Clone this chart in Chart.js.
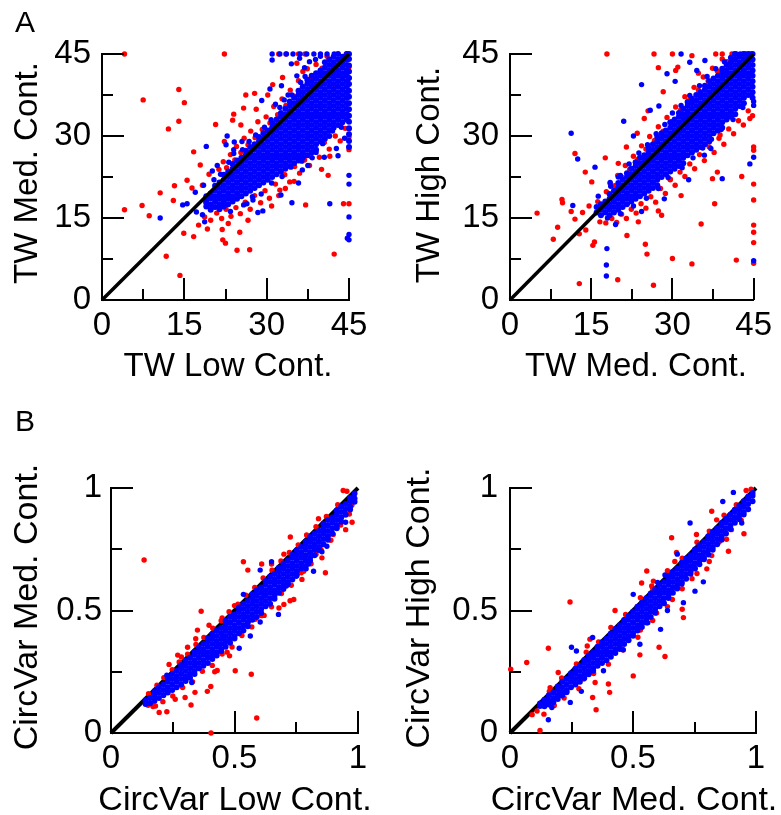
<!DOCTYPE html>
<html>
<head>
<meta charset="utf-8">
<script src="https://cdn.jsdelivr.net/npm/chart.js@4.4.1/dist/chart.umd.min.js"></script>
<style>
html, body { margin: 0; padding: 0; background: #fff; }
#wrap { position: relative; width: 781px; height: 815px; overflow: hidden; }
canvas { position: absolute; }
</style>
</head>
<body>
<div id="wrap">
  <canvas id="a1" width="390" height="400" style="left:0;top:0"></canvas>
  <canvas id="a2" width="391" height="400" style="left:390px;top:0"></canvas>
  <canvas id="b1" width="390" height="415" style="left:0;top:400px"></canvas>
  <canvas id="b2" width="391" height="415" style="left:390px;top:400px"></canvas>
</div>
<script>
// tick positions and labels
const twTicks = [0, 7.5, 15, 22.5, 30, 37.5, 45];
const twLabels = ['0', '', '15', '', '30', '', '45'];
const cvTicks = [0, 0.25, 0.5, 0.75, 1];
const cvLabels = ['0', '', '0.5', '', '1'];

const twDiag = [0, 0, 45, 45];
const cvDiag = [0, 0, 1, 1];

// dense cores, read column by column: [x, y, y, ...]
const a1BlueCore = [
  [19.0, 17.1, 18.0, 19.0],
  [19.8, 16.5, 17.5, 18.6, 19.5],
  [20.6, 17.0, 18.0, 19.0, 20.0, 20.9],
  [21.4, 16.6, 17.5, 18.5, 19.5, 20.5, 21.5],
  [22.2, 17.1, 18.0, 19.0, 20.0, 21.0, 22.0, 22.9],
  [23.0, 17.5, 18.5, 19.5, 20.5, 21.5, 22.5, 23.5],
  [23.8, 18.0, 19.0, 20.0, 21.0, 22.0, 23.0, 24.0, 24.9],
  [24.6, 18.5, 19.5, 20.5, 21.5, 22.5, 23.5, 24.5, 25.5],
  [25.4, 19.0, 20.0, 21.0, 22.0, 23.0, 24.0, 25.0, 26.0],
  [26.2, 19.5, 20.5, 21.5, 22.5, 23.5, 24.5, 25.5, 26.5, 27.3],
  [27.0, 20.0, 21.0, 22.0, 23.0, 24.0, 25.0, 26.0, 27.0, 28.0],
  [27.8, 20.5, 21.5, 22.5, 23.5, 24.5, 25.5, 26.5, 27.5, 28.5],
  [28.6, 21.0, 22.0, 23.0, 24.0, 25.0, 26.0, 27.0, 28.0, 29.0, 29.8],
  [29.4, 21.5, 22.5, 23.5, 24.5, 25.5, 26.5, 27.5, 28.5, 29.5, 30.5],
  [30.2, 22.0, 23.0, 24.0, 25.0, 26.0, 27.0, 28.0, 29.0, 30.0, 31.0],
  [31.0, 22.5, 23.5, 24.5, 25.5, 26.5, 27.5, 28.5, 29.5, 30.5, 31.5, 32.4],
  [31.8, 23.0, 24.0, 25.0, 26.0, 27.0, 28.0, 29.0, 30.0, 31.0, 32.0, 33.0],
  [32.6, 23.5, 24.5, 25.5, 26.5, 27.5, 28.5, 29.5, 30.5, 31.5, 32.5, 33.5, 34.2],
  [33.4, 24.0, 25.0, 26.0, 27.0, 28.0, 29.0, 30.0, 31.0, 32.0, 33.0, 34.0, 35.0],
  [34.2, 24.5, 25.5, 26.5, 27.5, 28.5, 29.5, 30.5, 31.5, 32.5, 33.5, 34.5, 35.5, 36.3],
  [35.0, 25.0, 26.0, 27.0, 28.0, 29.0, 30.0, 31.0, 32.0, 33.0, 34.0, 35.0, 36.0, 37.0],
  [35.8, 25.5, 26.5, 27.5, 28.5, 29.5, 30.5, 31.5, 32.5, 33.5, 34.5, 35.5, 36.5, 37.5, 38.3],
  [36.6, 26.0, 27.0, 28.0, 29.0, 30.0, 31.0, 32.0, 33.0, 34.0, 35.0, 36.0, 37.0, 38.0, 39.0],
  [37.4, 26.5, 27.5, 28.5, 29.5, 30.5, 31.5, 32.5, 33.5, 34.5, 35.5, 36.5, 37.5, 38.5, 39.5, 40.3],
  [38.2, 27.0, 28.0, 29.0, 30.0, 31.0, 32.0, 33.0, 34.0, 35.0, 36.0, 37.0, 38.0, 39.0, 40.0, 41.0],
  [39.0, 27.5, 28.5, 29.5, 30.5, 31.5, 32.5, 33.5, 34.5, 35.5, 36.5, 37.5, 38.5, 39.5, 40.5, 41.5],
  [39.8, 29.0, 30.0, 31.0, 32.0, 33.0, 34.0, 35.0, 36.0, 37.0, 38.0, 39.0, 40.0, 41.0, 42.0],
  [40.6, 29.5, 30.5, 31.5, 32.5, 33.5, 34.5, 35.5, 36.5, 37.5, 38.5, 39.5, 40.5, 41.5, 42.5, 43.5],
  [41.4, 30.0, 31.0, 32.0, 33.0, 34.0, 35.0, 36.0, 37.0, 38.0, 39.0, 40.0, 41.0, 42.0, 43.0, 44.0],
  [42.2, 31.5, 32.5, 33.5, 34.5, 35.5, 36.5, 37.5, 38.5, 39.5, 40.5, 41.5, 42.5, 43.5, 44.5],
  [43.0, 32.0, 33.0, 34.0, 35.0, 36.0, 37.0, 38.0, 39.0, 40.0, 41.0, 42.0, 43.0, 44.0, 45.0],
  [43.8, 32.5, 33.5, 34.5, 35.5, 36.5, 37.5, 38.5, 39.5, 40.5, 41.5, 42.5, 43.5, 44.5],
  [44.6, 33.0, 34.0, 35.0, 36.0, 37.0, 38.0, 39.0, 40.0, 41.0, 42.0, 43.0, 44.0, 45.0],
  [45.0, 28.0, 29.1, 30.3, 31.4, 32.6, 33.7, 34.9, 36.0, 37.2, 38.3, 39.5, 40.6, 41.8, 42.9, 44.1, 45.0]
];
// scattered points: x, y, x, y, ...
const a1BlueOut = [
  31.0, 45, 32.4, 45, 33.6, 45, 34.8, 45, 36.1, 45, 37.3, 45, 38.6, 45, 39.8, 45, 41.0, 45, 42.3, 45,
  31.0, 43.9, 29.1, 36.5, 30.6, 38.6, 32.7, 39.2, 31.6, 35.8, 22.8, 30.0, 22.6, 28.4, 24.1, 28.9,
  19.0, 28.1, 14.7, 17.4, 15.5, 17.6, 10.6, 15.0, 18.7, 14.3, 17.2, 16.1, 18.3, 15.6, 34.6, 17.8,
  41.5, 17.6, 45, 22.8, 45, 21.2, 45, 15.2, 45, 12.0, 44.7, 11.3, 45, 11.0, 42.7, 27.7, 43.0, 26.4,
  29.3, 16.3, 28.4, 16.0, 32.6, 19.2, 35.8, 21.4, 26.4, 17.6, 27.5, 18.3, 33.9, 37.5, 35.5, 41.0,
  36.9, 42.5, 37.8, 43.6, 38.9, 44.0, 39.8, 44.6, 34.5, 43.2, 36.0, 44.2, 40.5, 26.1, 39.0, 27.0,
  37.5, 24.6, 36.5, 23.8, 24.0, 27.5, 25.5, 29.0, 21.0, 24.6, 20.1, 23.6, 18.5, 21.0, 17.0, 19.7,
  20.4, 22.0, 21.6, 23.0, 23.1, 25.2, 24.0, 26.8, 25.6, 27.5, 26.8, 29.0, 28.0, 30.2, 29.6, 31.6,
  30.8, 33.0, 32.4, 35.2, 33.2, 36.6, 34.6, 37.5, 36.2, 39.8, 37.0, 40.9, 23.4, 16.2, 25.8, 17.4,
  27.4, 18.9, 29.0, 19.4, 30.9, 21.4, 32.8, 22.6, 34.4, 24.3, 36.4, 25.4, 38.3, 26.0, 40.2, 28.6,
  42.0, 30.9, 43.6, 31.6, 44.2, 29.6
];
const a1RedOut = [
  21.3, 23.9, 22.1, 25.3, 22.7, 24.2, 23.4, 26.6, 24.2, 25.6, 24.5, 28.1, 25.3, 27.0, 25.9, 29.6,
  26.6, 28.4, 27.1, 30.9, 27.9, 29.7, 28.4, 32.6, 29.2, 31.2, 29.9, 33.5, 30.6, 32.4, 31.3, 35.4,
  32.0, 33.9, 32.8, 36.8, 33.5, 35.6, 34.3, 38.4, 35.0, 37.3, 35.8, 40.1, 36.5, 38.9, 37.4, 42.3,
  38.1, 40.6, 39.0, 43.1, 40.1, 42.4, 41.0, 44.6,
  18.7, 15.2, 19.8, 14.6, 20.9, 15.9, 21.8, 14.9, 22.6, 16.6, 23.5, 15.3, 24.4, 16.9, 25.2, 15.8,
  26.1, 17.9, 27.0, 16.6, 27.8, 19.1, 28.9, 17.8, 29.7, 20.0, 30.5, 18.6, 31.6, 21.2, 32.4, 20.1,
  33.3, 22.9, 34.2, 21.6, 35.1, 24.4, 36.0, 23.2, 36.9, 25.6, 37.8, 24.6, 38.7, 27.2, 39.6, 26.1,
  40.5, 28.8, 41.4, 27.6, 42.5, 30.0, 43.4, 29.1, 44.3, 31.4,
  4.1, 45, 22.3, 45, 32.2, 45, 33.5, 45, 35.8, 45, 37.0, 45, 44.5, 45,
  14.0, 38.5, 7.5, 36.6, 15.0, 36.1, 14.0, 32.7, 12.1, 31.3, 20.7, 32.1,
  4.1, 16.5, 7.3, 17.3, 8.6, 15.4, 10.6, 19.6, 13.0, 18.2, 13.2, 20.9, 15.5, 21.9, 16.7, 27.1, 17.9, 24.7,
  11.7, 8.0, 14.2, 4.5, 14.9, 12.2, 16.7, 11.6, 17.6, 13.7, 19.2, 13.0, 21.9, 12.9, 22.0, 11.0,
  22.5, 10.4, 25.1, 12.4, 24.6, 9.1, 26.9, 9.2, 42.3, 8.4, 37.1, 17.4, 40.0, 23.9, 41.5, 26.3,
  44.0, 17.6, 45, 17.6, 45, 29.8, 45, 31.3, 45, 27.5, 38.0, 26.3, 36.0, 26.1, 32.2, 19.1, 30.9, 17.2,
  27.8, 37.8, 26.2, 37.5, 30.2, 37.5, 28.1, 34.9, 31.1, 39.4, 25.8, 35.1, 23.8, 32.9, 25.3, 32.0,
  22.3, 29.0, 32.9, 40.7, 35.5, 43.3, 36.6, 41.8, 24.0, 34.0, 19.5, 23.0, 18.3, 21.0, 16.4, 20.5,
  18.9, 17.8, 20.4, 17.0, 23.0, 14.0, 26.6, 14.6, 33.4, 20.4, 35.0, 21.7, 41.2, 22.8, 45, 40.6,
  45, 42.6, 44.0, 44.0, 42.5, 39.1
];

const a2BlueCore = [
  [16.0, 16.0, 17.0],
  [16.8, 15.5, 16.5, 17.5],
  [17.6, 16.0, 17.0, 18.0],
  [18.4, 15.5, 16.5, 17.5, 18.5, 19.4],
  [19.2, 16.0, 17.0, 18.0, 19.0, 20.0],
  [20.0, 16.5, 17.5, 18.5, 19.5, 20.5, 21.4],
  [20.8, 17.0, 18.0, 19.0, 20.0, 21.0, 22.0],
  [21.6, 17.5, 18.5, 19.5, 20.5, 21.5, 22.5, 23.2],
  [22.4, 18.0, 19.0, 20.0, 21.0, 22.0, 23.0, 24.0],
  [23.2, 18.5, 19.5, 20.5, 21.5, 22.5, 23.5, 24.5, 25.2],
  [24.0, 19.0, 20.0, 21.0, 22.0, 23.0, 24.0, 25.0, 26.0],
  [24.8, 19.5, 20.5, 21.5, 22.5, 23.5, 24.5, 25.5, 26.5],
  [25.6, 20.0, 21.0, 22.0, 23.0, 24.0, 25.0, 26.0, 27.0, 27.8],
  [26.4, 20.5, 21.5, 22.5, 23.5, 24.5, 25.5, 26.5, 27.5, 28.5],
  [27.2, 21.0, 22.0, 23.0, 24.0, 25.0, 26.0, 27.0, 28.0, 29.0, 29.8],
  [28.0, 22.5, 23.5, 24.5, 25.5, 26.5, 27.5, 28.5, 29.5, 30.5],
  [28.8, 23.0, 24.0, 25.0, 26.0, 27.0, 28.0, 29.0, 30.0, 31.0],
  [29.6, 23.5, 24.5, 25.5, 26.5, 27.5, 28.5, 29.5, 30.5, 31.5, 32.5],
  [30.4, 24.0, 25.0, 26.0, 27.0, 28.0, 29.0, 30.0, 31.0, 32.0, 33.0],
  [31.2, 24.5, 25.5, 26.5, 27.5, 28.5, 29.5, 30.5, 31.5, 32.5, 33.5, 34.2],
  [32.0, 25.0, 26.0, 27.0, 28.0, 29.0, 30.0, 31.0, 32.0, 33.0, 34.0, 35.0],
  [32.8, 26.5, 27.5, 28.5, 29.5, 30.5, 31.5, 32.5, 33.5, 34.5, 35.5, 36.2],
  [33.6, 27.0, 28.0, 29.0, 30.0, 31.0, 32.0, 33.0, 34.0, 35.0, 36.0, 36.8],
  [34.4, 27.5, 28.5, 29.5, 30.5, 31.5, 32.5, 33.5, 34.5, 35.5, 36.5, 37.5],
  [35.2, 28.0, 29.0, 30.0, 31.0, 32.0, 33.0, 34.0, 35.0, 36.0, 37.0, 38.0],
  [36.0, 28.5, 29.5, 30.5, 31.5, 32.5, 33.5, 34.5, 35.5, 36.5, 37.5, 38.5, 39.2],
  [36.8, 29.0, 30.0, 31.0, 32.0, 33.0, 34.0, 35.0, 36.0, 37.0, 38.0, 39.0, 40.0],
  [37.6, 30.5, 31.5, 32.5, 33.5, 34.5, 35.5, 36.5, 37.5, 38.5, 39.5, 40.5],
  [38.4, 31.0, 32.0, 33.0, 34.0, 35.0, 36.0, 37.0, 38.0, 39.0, 40.0, 41.0],
  [39.2, 31.5, 32.5, 33.5, 34.5, 35.5, 36.5, 37.5, 38.5, 39.5, 40.5, 41.5, 42.3],
  [40.0, 33.0, 34.0, 35.0, 36.0, 37.0, 38.0, 39.0, 40.0, 41.0, 42.0, 43.0],
  [40.8, 33.5, 34.5, 35.5, 36.5, 37.5, 38.5, 39.5, 40.5, 41.5, 42.5, 43.5, 44.3],
  [41.6, 34.0, 35.0, 36.0, 37.0, 38.0, 39.0, 40.0, 41.0, 42.0, 43.0, 44.0, 45.0],
  [42.4, 35.5, 36.5, 37.5, 38.5, 39.5, 40.5, 41.5, 42.5, 43.5, 44.5],
  [43.2, 36.0, 37.0, 38.0, 39.0, 40.0, 41.0, 42.0, 43.0, 44.0, 45.0],
  [44.0, 37.5, 38.5, 39.5, 40.5, 41.5, 42.5, 43.5, 44.5, 45.0],
  [44.8, 37.0, 38.0, 39.0, 40.0, 41.0, 42.0, 43.0, 44.0, 45.0]
];
const a2BlueOut = [
  41.5, 45, 42.5, 45, 43.5, 45, 44.5, 44.3, 44.6, 45,
  11.3, 30.5, 12.5, 25.8, 15.7, 24.3, 11.6, 17.3, 17.9, 9.4, 17.8, 6.4, 17.8, 4.4, 24.3, 16.2,
  31.6, 45, 29.0, 41.4, 24.3, 39.4, 25.9, 34.7, 21.0, 32.7, 22.8, 30.0, 39.2, 22.2, 45, 26.1,
  44.3, 24.9, 45, 7.2, 45, 35.6, 45, 36.3, 37.1, 27.7, 35.9, 26.5, 33.2, 43.5, 34.5, 42.0,
  36.0, 43.8, 30.5, 40.0, 27.5, 35.5, 20.0, 22.5, 18.5, 21.5, 16.3, 19.0, 19.5, 13.8, 28.5, 18.5,
  33.0, 22.0,
  18.6, 20.8, 20.4, 22.8, 22.0, 24.9, 23.8, 26.9, 25.4, 28.4, 27.0, 30.4, 28.6, 32.1, 30.0, 34.2,
  31.6, 35.6, 33.2, 37.4, 35.0, 39.2, 36.4, 40.9, 38.0, 42.3, 39.6, 43.6, 18.0, 15.0, 20.4, 15.8,
  22.8, 17.2, 25.2, 18.6, 27.4, 20.4, 29.2, 22.4, 31.8, 24.2, 33.8, 26.0, 35.6, 27.8, 37.2, 29.4,
  39.0, 31.2, 41.2, 33.0, 43.0, 35.2
];
const a2RedOut = [
  17.8, 19.8, 18.5, 21.3, 19.3, 20.9, 19.9, 22.8, 20.7, 22.4, 21.3, 24.6, 22.1, 23.9, 22.8, 26.3,
  23.6, 25.7, 24.3, 28.2, 25.1, 27.6, 25.8, 29.9, 26.7, 29.2, 27.4, 31.7, 28.3, 30.9, 29.0, 33.4,
  29.9, 32.6, 30.6, 35.3, 31.5, 34.7, 32.3, 37.2, 33.1, 36.5, 34.0, 38.9, 34.8, 38.4, 35.7, 40.8,
  36.6, 40.1, 37.4, 42.4, 38.3, 41.9, 39.2, 44.1, 40.1, 43.6, 41.0, 45,
  16.6, 14.3, 17.7, 14.1, 18.8, 14.9, 19.7, 14.2, 20.6, 15.7, 21.5, 14.9, 22.4, 16.6, 23.3, 15.9,
  24.2, 17.6, 25.1, 16.8, 26.0, 18.9, 26.9, 17.9, 27.8, 20.4, 28.7, 19.5, 29.6, 22.1, 30.5, 21.0,
  31.4, 23.4, 32.3, 22.6, 33.2, 24.9, 34.1, 24.0, 35.0, 26.6, 35.9, 25.5, 36.8, 28.0, 37.7, 27.0,
  38.6, 29.6, 39.5, 28.5, 40.4, 31.3, 41.3, 30.4, 42.2, 32.8, 43.1, 32.0, 44.0, 34.6, 44.8, 33.7,
  17.9, 45, 26.6, 45, 30.0, 45, 33.6, 44.7, 38.0, 45, 39.2, 45, 27.4, 42.5, 31.0, 42.6, 30.6, 42.0,
  28.3, 38.1, 24.8, 33.2, 25.5, 34.6, 17.6, 26.0, 12.0, 26.8, 13.9, 23.4, 15.1, 21.6, 9.6, 18.4,
  9.7, 17.8, 5.0, 15.9, 8.8, 13.3, 8.0, 11.1, 11.3, 16.2, 12.0, 14.8, 12.8, 12.1, 14.0, 12.8,
  15.3, 10.0, 15.6, 10.6, 12.8, 3.0, 19.9, 3.7, 26.5, 2.7, 25.0, 10.2, 25.3, 8.4, 21.6, 11.8,
  23.7, 14.3, 27.4, 16.3, 28.0, 15.5, 35.3, 13.9, 37.8, 17.6, 33.6, 6.6, 30.0, 7.6, 41.8, 7.3,
  45, 6.7, 45, 10.5, 45, 12.4, 45, 13.7, 45, 18.3, 45, 21.2, 45, 27.4, 45, 28.0, 42.8, 22.6,
  38.3, 23.4, 37.4, 22.2, 31.6, 19.1, 29.6, 22.0, 44.3, 33.2, 38.8, 30.2, 16.2, 18.0, 14.6, 17.2,
  13.4, 16.0, 20.0, 25.0, 21.5, 28.0, 23.5, 30.5, 34.8, 41.5, 40.3, 43.0, 41.8, 45, 43.0, 45, 44.2, 45
];

const b1BlueCore = [
  [0.140, 0.118, 0.134],
  [0.158, 0.121, 0.143],
  [0.176, 0.132, 0.154, 0.170],
  [0.194, 0.143, 0.165, 0.187],
  [0.212, 0.154, 0.176, 0.198],
  [0.230, 0.165, 0.187, 0.209, 0.224],
  [0.248, 0.176, 0.198, 0.220, 0.242],
  [0.266, 0.187, 0.209, 0.231, 0.253],
  [0.284, 0.198, 0.220, 0.242, 0.264, 0.278],
  [0.302, 0.212, 0.231, 0.253, 0.275, 0.295],
  [0.320, 0.226, 0.242, 0.264, 0.286, 0.308],
  [0.338, 0.241, 0.253, 0.275, 0.297, 0.319, 0.331],
  [0.356, 0.264, 0.286, 0.308, 0.330, 0.350],
  [0.374, 0.275, 0.297, 0.319, 0.341, 0.363],
  [0.392, 0.286, 0.308, 0.330, 0.352, 0.374, 0.387],
  [0.410, 0.302, 0.319, 0.341, 0.363, 0.385, 0.404],
  [0.428, 0.316, 0.330, 0.352, 0.374, 0.396, 0.418],
  [0.446, 0.334, 0.341, 0.363, 0.385, 0.407, 0.429],
  [0.464, 0.352, 0.374, 0.396, 0.418, 0.440, 0.458],
  [0.482, 0.368, 0.385, 0.407, 0.429, 0.451, 0.473],
  [0.500, 0.386, 0.396, 0.418, 0.440, 0.462, 0.484],
  [0.518, 0.407, 0.429, 0.451, 0.473, 0.495, 0.512],
  [0.536, 0.418, 0.440, 0.462, 0.484, 0.506, 0.528],
  [0.554, 0.436, 0.451, 0.473, 0.495, 0.517, 0.539],
  [0.572, 0.462, 0.484, 0.506, 0.528, 0.550, 0.566],
  [0.590, 0.473, 0.495, 0.517, 0.539, 0.561, 0.583],
  [0.608, 0.490, 0.506, 0.528, 0.550, 0.572, 0.594],
  [0.626, 0.517, 0.539, 0.561, 0.583, 0.605, 0.620],
  [0.644, 0.528, 0.550, 0.572, 0.594, 0.616, 0.638],
  [0.662, 0.548, 0.561, 0.583, 0.605, 0.627, 0.649],
  [0.680, 0.572, 0.594, 0.616, 0.638, 0.660, 0.674],
  [0.698, 0.588, 0.605, 0.627, 0.649, 0.671, 0.692],
  [0.716, 0.607, 0.616, 0.638, 0.660, 0.682, 0.704],
  [0.734, 0.627, 0.649, 0.671, 0.693, 0.715, 0.728],
  [0.752, 0.644, 0.660, 0.682, 0.704, 0.726, 0.746],
  [0.770, 0.671, 0.693, 0.715, 0.737, 0.759],
  [0.788, 0.682, 0.704, 0.726, 0.748, 0.770, 0.782],
  [0.806, 0.703, 0.715, 0.737, 0.759, 0.781, 0.800],
  [0.824, 0.726, 0.748, 0.770, 0.792, 0.814],
  [0.842, 0.747, 0.759, 0.781, 0.803, 0.825],
  [0.860, 0.770, 0.792, 0.814, 0.836, 0.854],
  [0.878, 0.789, 0.803, 0.825, 0.847, 0.869],
  [0.896, 0.814, 0.836, 0.858, 0.880],
  [0.914, 0.836, 0.847, 0.869, 0.891, 0.908],
  [0.932, 0.862, 0.880, 0.902, 0.924],
  [0.950, 0.891, 0.913, 0.935],
  [0.968, 0.912, 0.924, 0.946, 0.960],
  [0.986, 0.944, 0.957, 0.978]
];
const b1BlueOut = [
  0.65, 0.699, 0.604, 0.665, 0.536, 0.566, 0.678, 0.484, 0.604, 0.453, 0.564, 0.396, 0.519, 0.346,
  0.82, 0.66, 0.874, 0.762, 0.854, 0.74, 0.95, 0.86, 0.80, 0.69, 0.79, 0.67, 0.327, 0.206,
  0.226, 0.236, 0.62, 0.56, 0.58, 0.54, 0.46, 0.395, 0.44, 0.36, 0.71, 0.60, 0.75, 0.64
];
const b1RedOut = [
  0.152, 0.16, 0.186, 0.195, 0.214, 0.226, 0.248, 0.258, 0.276, 0.29, 0.31, 0.322, 0.344, 0.361,
  0.376, 0.39, 0.412, 0.428, 0.446, 0.458, 0.478, 0.495, 0.514, 0.526, 0.546, 0.562, 0.582, 0.594,
  0.616, 0.633, 0.652, 0.664, 0.688, 0.702, 0.722, 0.737, 0.758, 0.768, 0.792, 0.808, 0.83, 0.842,
  0.872, 0.884, 0.918, 0.932,
  0.17, 0.108, 0.21, 0.128, 0.25, 0.151, 0.29, 0.186, 0.33, 0.209, 0.37, 0.252, 0.41, 0.276,
  0.45, 0.322, 0.49, 0.351, 0.53, 0.398, 0.57, 0.433, 0.61, 0.479, 0.65, 0.515, 0.69, 0.569,
  0.73, 0.603, 0.77, 0.654, 0.81, 0.691, 0.85, 0.749, 0.89, 0.787, 0.93, 0.849, 0.965, 0.894,
  0.134, 0.706, 0.726, 0.80, 0.868, 0.654, 0.95, 0.83, 0.976, 0.86, 0.94, 0.99, 0.955, 0.987,
  0.975, 0.93, 0.536, 0.699, 0.554, 0.665, 0.61, 0.69, 0.65, 0.69, 0.365, 0.497, 0.397, 0.44,
  0.35, 0.42, 0.343, 0.385, 0.31, 0.35, 0.27, 0.318, 0.285, 0.31, 0.235, 0.28, 0.503, 0.254,
  0.568, 0.24, 0.42, 0.25, 0.404, 0.19, 0.39, 0.17, 0.34, 0.166, 0.324, 0.114, 0.26, 0.138,
  0.30, 0.145, 0.226, 0.087, 0.195, 0.084, 0.59, 0.061, 0.405, 0.0, 0.74, 0.545, 0.725, 0.54,
  0.68, 0.51, 0.70, 0.525, 0.773, 0.627, 0.584, 0.464, 0.62, 0.48, 0.47, 0.33, 0.48, 0.315,
  0.43, 0.255, 0.165, 0.12, 0.15, 0.113, 0.18, 0.11, 0.854, 0.715, 0.91, 0.87, 0.84, 0.875,
  0.70, 0.73, 0.50, 0.52, 0.45, 0.47, 0.56, 0.46, 0.66, 0.58, 0.78, 0.66, 0.83, 0.73, 0.90, 0.81
];

const b2BlueCore = [
  [0.122, 0.110, 0.120],
  [0.140, 0.109, 0.121, 0.136],
  [0.158, 0.116, 0.132, 0.154],
  [0.176, 0.126, 0.143, 0.165],
  [0.194, 0.139, 0.154, 0.176, 0.190],
  [0.212, 0.153, 0.165, 0.187, 0.209],
  [0.230, 0.166, 0.176, 0.198, 0.220],
  [0.248, 0.187, 0.209, 0.231, 0.244],
  [0.266, 0.198, 0.220, 0.242, 0.262],
  [0.284, 0.209, 0.231, 0.253, 0.275],
  [0.302, 0.224, 0.242, 0.264, 0.286, 0.298],
  [0.320, 0.240, 0.253, 0.275, 0.297, 0.316],
  [0.338, 0.254, 0.264, 0.286, 0.308, 0.330],
  [0.356, 0.275, 0.297, 0.319, 0.341, 0.352],
  [0.374, 0.286, 0.308, 0.330, 0.352, 0.370],
  [0.392, 0.297, 0.319, 0.341, 0.363, 0.385],
  [0.410, 0.311, 0.330, 0.352, 0.374, 0.396, 0.406],
  [0.428, 0.327, 0.341, 0.363, 0.385, 0.407, 0.424],
  [0.446, 0.343, 0.352, 0.374, 0.396, 0.418, 0.440],
  [0.464, 0.363, 0.385, 0.407, 0.429, 0.451, 0.461],
  [0.482, 0.379, 0.396, 0.418, 0.440, 0.462, 0.478],
  [0.500, 0.397, 0.407, 0.429, 0.451, 0.473, 0.495],
  [0.518, 0.418, 0.440, 0.462, 0.484, 0.506, 0.515],
  [0.536, 0.433, 0.451, 0.473, 0.495, 0.517, 0.532],
  [0.554, 0.451, 0.462, 0.484, 0.506, 0.528, 0.550],
  [0.572, 0.473, 0.495, 0.517, 0.539, 0.561, 0.569],
  [0.590, 0.491, 0.506, 0.528, 0.550, 0.572, 0.587],
  [0.608, 0.517, 0.539, 0.561, 0.583, 0.604],
  [0.626, 0.530, 0.550, 0.572, 0.594, 0.616],
  [0.644, 0.551, 0.561, 0.583, 0.605, 0.627, 0.641],
  [0.662, 0.572, 0.594, 0.616, 0.638, 0.658],
  [0.680, 0.590, 0.605, 0.627, 0.649, 0.671],
  [0.698, 0.609, 0.616, 0.638, 0.660, 0.682, 0.695],
  [0.716, 0.630, 0.649, 0.671, 0.693, 0.712],
  [0.734, 0.650, 0.660, 0.682, 0.704, 0.726],
  [0.752, 0.671, 0.693, 0.715, 0.737, 0.749],
  [0.770, 0.689, 0.704, 0.726, 0.748, 0.766],
  [0.788, 0.709, 0.715, 0.737, 0.759, 0.781],
  [0.806, 0.729, 0.748, 0.770, 0.792, 0.803],
  [0.824, 0.748, 0.759, 0.781, 0.803, 0.820],
  [0.842, 0.770, 0.792, 0.814, 0.836],
  [0.860, 0.789, 0.803, 0.825, 0.847, 0.857],
  [0.878, 0.814, 0.836, 0.858, 0.874],
  [0.896, 0.833, 0.847, 0.869, 0.891],
  [0.914, 0.858, 0.880, 0.902, 0.911],
  [0.932, 0.872, 0.891, 0.913, 0.928],
  [0.950, 0.892, 0.902, 0.924, 0.946],
  [0.968, 0.913, 0.935, 0.957, 0.964],
  [0.986, 0.946, 0.968, 0.980]
];
const b2BlueOut = [
  0.732, 0.857, 0.908, 0.982, 0.942, 0.857, 0.786, 0.617, 0.752, 0.579, 0.705, 0.532, 0.612, 0.423,
  0.528, 0.362, 0.501, 0.566, 0.25, 0.35, 0.27, 0.335, 0.336, 0.39, 0.38, 0.254, 0.156, 0.054,
  0.17, 0.104, 0.245, 0.125, 0.29, 0.17, 0.865, 0.945, 0.64, 0.50, 0.56, 0.45, 0.46, 0.34,
  0.60, 0.615, 0.63, 0.645, 0.68, 0.73
];
const b2RedOut = [
  0.16, 0.17, 0.21, 0.225, 0.27, 0.282, 0.31, 0.33, 0.36, 0.372, 0.41, 0.431, 0.47, 0.484, 0.53, 0.552,
  0.58, 0.591, 0.64, 0.662, 0.70, 0.713, 0.76, 0.779, 0.81, 0.824, 0.87, 0.889, 0.92, 0.932,
  0.18, 0.112, 0.22, 0.143, 0.28, 0.181, 0.34, 0.243, 0.40, 0.281, 0.46, 0.339, 0.52, 0.391,
  0.58, 0.459, 0.64, 0.516, 0.70, 0.589, 0.76, 0.651, 0.82, 0.724, 0.88, 0.791, 0.94, 0.869,
  0.003, 0.26, 0.068, 0.288, 0.156, 0.346, 0.244, 0.535, 0.314, 0.355, 0.325, 0.383, 0.427, 0.50,
  0.556, 0.661, 0.583, 0.62, 0.576, 0.60, 0.535, 0.612, 0.657, 0.797, 0.677, 0.737, 0.738, 0.681,
  0.758, 0.81, 0.82, 0.905, 0.84, 0.87, 0.888, 0.742, 0.951, 0.813, 0.80, 0.67, 0.81, 0.70,
  0.705, 0.471, 0.70, 0.505, 0.63, 0.312, 0.528, 0.319, 0.501, 0.233, 0.40, 0.20, 0.405, 0.166,
  0.35, 0.095, 0.336, 0.145, 0.196, 0.247, 0.163, 0.185, 0.122, 0.01, 0.138, 0.077, 0.20, 0.165,
  0.346, 0.206, 0.596, 0.49, 0.606, 0.35, 0.47, 0.43, 0.45, 0.37, 0.38, 0.34, 0.26, 0.21,
  0.30, 0.22, 0.23, 0.17, 0.09, 0.075, 0.11, 0.09, 0.53, 0.42, 0.66, 0.545, 0.74, 0.63,
  0.77, 0.70, 0.85, 0.78, 0.90, 0.83, 0.93, 0.88, 0.96, 0.99, 0.98, 0.995, 0.67, 0.70
];

const FONT = '"Liberation Sans", Arial, Helvetica, sans-serif';

function fromColumns(cols) {
  const pts = [];
  cols.forEach(c => { for (let i = 1; i < c.length; i++) pts.push({ x: c[0], y: c[i] }); });
  return pts;
}
function fromPairs(flat) {
  const pts = [];
  for (let i = 0; i < flat.length; i += 2) pts.push({ x: flat[i], y: flat[i + 1] });
  return pts;
}

// inward ticks (long where labelled), axis titles and panel letter
const panelDecor = {
  id: 'panelDecor',
  afterDatasetsDraw(chart) {
    const ctx = chart.ctx;
    const area = chart.chartArea;
    const xs = chart.scales.x, ys = chart.scales.y;
    ctx.save();
    ctx.strokeStyle = '#000';
    ctx.lineWidth = 2;
    xs.ticks.forEach(t => {
      const px = Math.round(xs.getPixelForValue(t.value));
      const len = t.label ? 22 : 11;
      ctx.beginPath(); ctx.moveTo(px, area.bottom); ctx.lineTo(px, area.bottom - len); ctx.stroke();
    });
    ys.ticks.forEach(t => {
      const py = Math.round(ys.getPixelForValue(t.value));
      const len = t.label ? 22 : 11;
      ctx.beginPath(); ctx.moveTo(area.left, py); ctx.lineTo(area.left + len, py); ctx.stroke();
    });
    ctx.restore();
  },
  afterDraw(chart, args, o) {
    const ctx = chart.ctx;
    ctx.save();
    ctx.fillStyle = '#000';
    ctx.textAlign = 'center';
    ctx.textBaseline = 'alphabetic';
    ctx.font = o.titleSize + 'px ' + FONT;
    ctx.fillText(o.xTitle, o.xTitleX, o.xTitleY);
    ctx.save();
    ctx.translate(o.yTitleX, o.yTitleY);
    ctx.rotate(-Math.PI / 2);
    ctx.fillText(o.yTitle, 0, 0);
    ctx.restore();
    if (o.letter) {
      ctx.textAlign = 'left';
      ctx.font = '30px ' + FONT;
      ctx.fillText(o.letter, 15, o.letterY);
    }
    ctx.restore();
  }
};

function axis(ticks, labels, max, size, tickPad) {
  return {
    type: 'linear', min: 0, max: max,
    afterBuildTicks: s => { s.ticks = ticks.map(v => ({ value: v })); },
    afterFit: s => { if (s.isHorizontal()) s.height = size; else s.width = size; },
    ticks: {
      autoSkip: false, maxRotation: 0, minRotation: 0, padding: tickPad, color: '#000',
      font: { family: FONT, size: 33, lineHeight: 1 },
      callback: (v, i) => labels[i]
    },
    grid: { display: false, drawTicks: false },
    border: { display: true, color: '#000', width: 2 },
    title: { display: false }
  };
}

function panel(id, p) {
  const dots = (pts, color, r) => ({
    data: pts, backgroundColor: color, pointRadius: r, pointBorderWidth: 0, pointHoverRadius: r, clip: false
  });
  const line = { data: fromPairs(p.diag), showLine: true, borderColor: '#000', borderWidth: p.lineWidth, pointRadius: 0, clip: false };
  const blueCore = dots(fromColumns(p.blueCore), 'rgb(0,0,255)', 3);
  const blueOut = dots(fromPairs(p.blueOut), 'rgb(0,0,255)', 2.7);
  const red = dots(fromPairs(p.red), 'rgb(255,0,0)', 2.7);
  // first dataset is drawn on top
  const datasets = p.lineOnTop ? [line, blueCore, blueOut, red] : [blueCore, blueOut, red, line];
  new Chart(document.getElementById(id), {
    type: 'scatter',
    data: { datasets },
    options: {
      responsive: false, animation: false, devicePixelRatio: 1, events: [],
      layout: { padding: p.padding },
      plugins: { legend: { display: false }, tooltip: { enabled: false }, panelDecor: p.decor },
      scales: {
        x: axis(p.ticks, p.labels, p.max, p.xHeight, 9),
        y: axis(p.ticks, p.labels, p.max, p.yWidth, p.yTickPad)
      }
    },
    plugins: [panelDecor]
  });
}

panel('a1', {
  ticks: twTicks, labels: twLabels, max: 45, diag: twDiag, lineWidth: 3.5, lineOnTop: true,
  blueCore: a1BlueCore, blueOut: a1BlueOut, red: a1RedOut,
  padding: { left: 0, top: 54, right: 41, bottom: 0 }, yWidth: 102, xHeight: 100, yTickPad: 11,
  decor: { xTitle: 'TW Low Cont.', xTitleX: 228, xTitleY: 376, yTitle: 'TW Med. Cont.', yTitleX: 37, yTitleY: 173,
           titleSize: 33, letter: 'A', letterY: 32 }
});
panel('a2', {
  ticks: twTicks, labels: twLabels, max: 45, diag: twDiag, lineWidth: 3.5, lineOnTop: true,
  blueCore: a2BlueCore, blueOut: a2BlueOut, red: a2RedOut,
  padding: { left: 0, top: 54, right: 24, bottom: 0 }, yWidth: 120, xHeight: 100, yTickPad: 11,
  decor: { xTitle: 'TW Med. Cont.', xTitleX: 246, xTitleY: 376, yTitle: 'TW High Cont.', yTitleX: 49, yTitleY: 175,
           titleSize: 33 }
});
panel('b1', {
  ticks: cvTicks, labels: cvLabels, max: 1, diag: cvDiag, lineWidth: 4, lineOnTop: false,
  blueCore: b1BlueCore, blueOut: b1BlueOut, red: b1RedOut,
  padding: { left: 0, top: 88, right: 32, bottom: 0 }, yWidth: 111, xHeight: 82, yTickPad: 9,
  decor: { xTitle: 'CircVar Low Cont.', xTitleX: 235, xTitleY: 410, yTitle: 'CircVar Med. Cont.', yTitleX: 37, yTitleY: 207,
           titleSize: 34, letter: 'B', letterY: 31 }
});
panel('b2', {
  ticks: cvTicks, labels: cvLabels, max: 1, diag: cvDiag, lineWidth: 4, lineOnTop: false,
  blueCore: b2BlueCore, blueOut: b2BlueOut, red: b2RedOut,
  padding: { left: 0, top: 88, right: 25, bottom: 0 }, yWidth: 120, xHeight: 82, yTickPad: 12,
  decor: { xTitle: 'CircVar Med. Cont.', xTitleX: 244, xTitleY: 410, yTitle: 'CircVar High Cont.', yTitleX: 39, yTitleY: 208,
           titleSize: 34 }
});
</script>
</body>
</html>
